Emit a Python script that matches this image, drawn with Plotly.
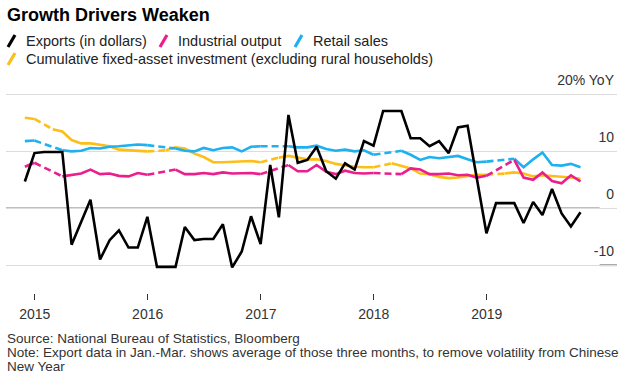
import pandas as pd
import plotly.graph_objects as go

# ---------------- data (YoY %, monthly Nov 2014 - Oct 2019) ----------------
start_month = "2014-11-01"
n_months = 60

exports = [
    4.7, 9.7,
    9.9, 9.9, 9.9, -6.4, -2.5, 1.5, -9.0, -5.6, -3.9, -6.9, -6.9, -1.5,
    -10.3, -10.3, -10.3, -3.3, -5.6, -5.4, -5.4, -2.8, -10.4, -7.6, -1.4, -6.3,
    7.6, -1.6, 16.4, 8.0, 8.5, 10.8, 6.5, 5.2, 7.9, 6.8, 11.8, 11.0,
    17.1, 17.1, 17.1, 12.3, 12.3, 10.9, 11.8, 9.7, 14.2, 14.5, 5.2, -4.4,
    0.9, 0.9, 0.9, -2.6, 1.1, -1.2, 3.4, -0.9, -3.2, -0.7,
]
industrial = [
    7.3, 8.0,
    None, None, 5.6, 5.9, 6.1, 6.8, 6.0, 6.1, 5.7, 5.6, 6.2, 5.9,
    None, None, 6.8, 6.0, 6.0, 6.2, 6.0, 6.3, 6.1, 6.1, 6.2, 6.0,
    None, None, 7.6, 6.5, 6.5, 7.6, 6.4, 6.0, 6.6, 6.2, 6.1, 6.2,
    None, None, 6.0, 7.0, 6.8, 6.0, 6.0, 6.1, 5.8, 5.9, 5.4, 5.7,
    None, None, 8.5, 5.4, 5.0, 6.3, 4.8, 4.4, 5.8, 4.7,
]
retail = [
    11.8, 11.9,
    None, None, 10.2, 10.0, 10.1, 10.6, 10.5, 10.8, 10.9, 11.0, 11.2, 11.1,
    None, None, 10.5, 10.1, 10.0, 10.6, 10.2, 10.6, 10.7, 10.0, 10.8, 10.9,
    None, None, 10.9, 10.7, 10.7, 11.0, 10.4, 10.1, 10.3, 10.0, 10.2, 9.4,
    None, None, 10.1, 9.4, 8.5, 9.0, 8.8, 9.0, 9.2, 8.6, 8.1, 8.2,
    None, None, 8.7, 7.2, 8.6, 9.8, 7.6, 7.5, 7.8, 7.2,
]
fai = [
    15.9, 15.7,
    None, 13.9, 13.5, 12.0, 11.4, 11.4, 11.2, 10.9, 10.3, 10.2, 10.2, 10.0,
    None, 10.2, 10.7, 10.5, 9.6, 9.0, 8.1, 8.1, 8.2, 8.3, 8.3, 8.1,
    None, 8.9, 9.2, 8.9, 8.6, 8.6, 8.3, 7.8, 7.5, 7.3, 7.2, 7.2,
    None, 7.9, 7.5, 7.0, 6.1, 6.0, 5.5, 5.3, 5.4, 5.7, 5.9, 5.9,
    None, 6.1, 6.3, 6.1, 5.6, 5.8, 5.7, 5.5, 5.4, 5.2,
]

series_names = [
    "Exports (in dollars)",
    "Industrial output",
    "Retail sales",
    "Cumulative fixed-asset investment (excluding rural households)",
]
year_ticks = ["2015-01-01", "2016-01-01", "2017-01-01", "2018-01-01", "2019-01-01"]
year_labels = ["2015", "2016", "2017", "2018", "2019"]
y_ticks = [-10, 0, 10, 20]
y_labels = ["-10", "0", "10", "20% YoY"]

source_text = "Source: National Bureau of Statistics, Bloomberg"
note_line1 = "Note: Export data in Jan.-Mar. shows average of those three months, to remove volatility from Chinese"
note_line2 = "New Year"
title_text = "Growth Drivers Weaken"

# ---------------- styling ----------------
C_BLACK = "#000000"
C_PINK = "#ea1e8c"
C_BLUE = "#1eb0ef"
C_YELLOW = "#fcbf17"
FONT = "Liberation Sans, Arial, sans-serif"
LW = 2.6

W, H = 626, 377
L, R, T, B = 6, 9, 70, 84
PW, PH = W - L - R, H - T - B

dates = pd.date_range(start_month, periods=n_months, freq="MS") + pd.offsets.MonthEnd(0)


def gap_bridges(vals):
    """points bridging missing months (drawn dashed)"""
    bx, by = [], []
    last = None
    i = 0
    while i < len(vals):
        if vals[i] is None:
            j = i
            while j < len(vals) and vals[j] is None:
                j += 1
            if last is not None and j < len(vals):
                bx += [dates[last], dates[j], None]
                by += [vals[last], vals[j], None]
            i = j
        else:
            last = i
            i += 1
    return bx, by


fig = go.Figure()
for vals, color in [(fai, C_YELLOW), (retail, C_BLUE), (industrial, C_PINK)]:
    bx, by = gap_bridges(vals)
    fig.add_trace(go.Scatter(x=bx, y=by, mode="lines", connectgaps=False,
                             line=dict(color=color, width=LW, dash="7px,4px"),
                             hoverinfo="skip", showlegend=False))
    fig.add_trace(go.Scatter(x=dates, y=vals, mode="lines", connectgaps=False,
                             line=dict(color=color, width=LW), showlegend=False))
fig.add_trace(go.Scatter(x=dates, y=exports, mode="lines",
                         line=dict(color=C_BLACK, width=LW), showlegend=False))


def px(x):
    return (x - L) / PW


def py(y):
    return (H - B - y) / PH


annotations = [
    dict(text="<b>" + title_text + "</b>", x=px(5), y=py(15), xref="paper", yref="paper",
         xanchor="left", yanchor="middle", showarrow=False,
         font=dict(family=FONT, size=18, color="#000")),
    dict(text=source_text, x=px(5), y=py(338), xref="paper", yref="paper",
         xanchor="left", yanchor="middle", showarrow=False,
         font=dict(family=FONT, size=13.5, color="#333")),
    dict(text=note_line1, x=px(5), y=py(352), xref="paper", yref="paper",
         xanchor="left", yanchor="middle", showarrow=False,
         font=dict(family=FONT, size=13.5, color="#333")),
    dict(text=note_line2, x=px(5), y=py(366), xref="paper", yref="paper",
         xanchor="left", yanchor="middle", showarrow=False,
         font=dict(family=FONT, size=13.5, color="#333")),
]
shapes = []
legend_items = [
    (series_names[0], C_BLACK, 7, 41),
    (series_names[1], C_PINK, 159, 41),
    (series_names[2], C_BLUE, 294, 41),
    (series_names[3], C_YELLOW, 7, 59),
]
for name, color, gx, gy in legend_items:
    shapes.append(dict(type="line", xref="paper", yref="paper",
                       x0=px(gx + 1), y0=py(gy + 6), x1=px(gx + 8), y1=py(gy - 6),
                       line=dict(color=color, width=3.2)))
    annotations.append(dict(text=name, x=px(gx + 17), y=py(gy), xref="paper", yref="paper",
                            xanchor="left", yanchor="middle", showarrow=False,
                            font=dict(family=FONT, size=14.5, color="#222")))

# zero line (stops at 2020) and bottom axis marker
shapes.append(dict(type="line", xref="x", yref="y", x0="2014-09-30", x1="2020-01-01",
                   y0=0, y1=0, line=dict(color="#000", width=1.2), layer="below"))
shapes.append(dict(type="line", xref="x", yref="y", x0="2020-01-01", x1="2020-02-26",
                   y0=-10, y1=-10, line=dict(color="#999", width=2), layer="below"))

fig.update_layout(
    width=W, height=H,
    margin=dict(l=L, r=R, t=T, b=B, pad=0),
    paper_bgcolor="white", plot_bgcolor="white",
    showlegend=False,
    annotations=annotations,
    shapes=shapes,
    xaxis=dict(
        range=["2014-09-30", "2020-02-26"],
        tickmode="array", tickvals=year_ticks, ticktext=year_labels,
        ticks="outside", ticklen=6, tickwidth=1, tickcolor="#333",
        showgrid=False, zeroline=False, showline=False,
        tickfont=dict(family=FONT, size=14, color="#333"),
        ticklabelstandoff=2,
    ),
    yaxis=dict(
        range=[-14.89, 24.3], side="right",
        tickmode="array", tickvals=y_ticks, ticktext=y_labels,
        ticklabelposition="inside", ticklabelshift=-14,
        showgrid=True, gridcolor="#dcdcdc", gridwidth=1,
        zeroline=False, showline=False, ticks="",
        tickfont=dict(family=FONT, size=14, color="#333"),
    ),
)

fig.write_html(
    "out.html",
    config={"displayModeBar": False},
    post_script="document.body.style.margin='0px';document.body.style.overflow='hidden';",
)
